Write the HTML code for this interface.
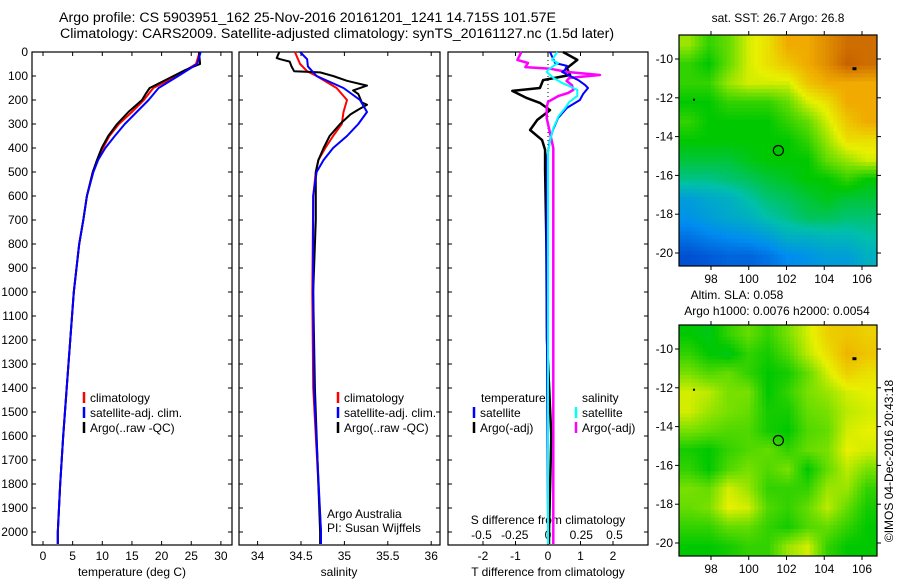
<!DOCTYPE html>
<html><head><meta charset="utf-8"><style>
html,body{margin:0;padding:0;background:#fff}
svg{display:block;font-family:"Liberation Sans",sans-serif}
text{font-size:12px;fill:#000}
</style></head><body>
<svg id="c" width="900" height="580" viewBox="0 0 900 580">
<text x="59" y="22" style="font-size:14.2px">Argo profile: CS 5903951_162 25-Nov-2016 20161201_1241 14.715S 101.57E</text>
<text x="60" y="38" style="font-size:14.2px">Climatology: CARS2009. Satellite-adjusted climatology: synTS_20161127.nc (1.5d later)</text>
</svg>
<script>
// ---- data ----
const depthTicks=[0,100,200,300,400,500,600,700,800,900,1000,1100,1200,1300,1400,1500,1600,1700,1800,1900,2000];
const tempTicks=[0,5,10,15,20,25,30];
const salTicks=[34,34.5,35,35.5,36];
const tdiffTicks=[-2,-1,0,1,2];
const sdiffTicks=[-0.5,-0.25,0,0.25,0.5];
const sdiffLabels=["-0.5","-0.25","0","0.25","0.5"];
const lonTicks=[98,100,102,104,106];
const latTicks=[-10,-12,-14,-16,-18,-20];

const tArgoD=[0,50,75,100,150,175,200,250,300,350,400,450,500,600,700,800,1000,1400,1600,1800,2000,2050];
const tArgoV=[26.3,26.5,24,22,18,17.3,16.7,14.4,12.5,11,9.9,9.1,8.4,7.4,6.8,6.1,5.2,4.0,3.4,2.9,2.5,2.5];
const tClimD=[0,50,100,150,200,250,300,350,400,450,500,600,700,800,1000,1400,1600,1800,2000,2050];
const tClimV=[26.4,25.8,22.5,18.6,17,15,12.8,11.2,10.1,9.2,8.4,7.4,6.8,6.1,5.2,4.0,3.4,2.9,2.5,2.5];
const tSatD=[0,50,100,150,200,250,300,350,400,450,500,600,700,800,1000,1400,1600,1800,2000,2050];
const tSatV=[26.6,26,22.8,19.5,17.8,15.8,13.8,12.1,10.5,9.3,8.5,7.4,6.8,6.1,5.2,4.0,3.4,2.9,2.5,2.5];

const sArgoD=[0,25,30,40,60,80,85,100,120,140,160,175,210,220,240,260,300,350,400,450,500,700,1000,1400,2000,2050];
const sArgoV=[34.25,34.22,34.26,34.37,34.39,34.42,34.72,34.87,35.03,35.26,35.1,35.16,35.2,35.26,35.16,35.07,34.95,34.83,34.76,34.7,34.67,34.67,34.64,34.66,34.72,34.72];
const sClimD=[0,50,80,100,150,200,250,300,350,400,450,500,600,1000,1400,2000,2050];
const sClimV=[34.43,34.49,34.57,34.68,34.91,35.03,34.99,34.97,34.87,34.78,34.7,34.67,34.64,34.63,34.64,34.73,34.73];
const sSatD=[0,30,60,100,150,200,250,300,350,400,450,500,600,1000,1400,2000,2050];
const sSatV=[34.49,34.57,34.58,34.68,34.99,35.18,35.26,35.16,35.03,34.87,34.76,34.68,34.64,34.64,34.65,34.73,34.73];

const dTArgoD=[0,33,67,96,117,150,162,192,212,242,283,325,367,408,492,800,1200,1600,2000,2050];
const dTArgoV=[0.46,0.9,0.58,0.68,-0.15,-0.25,-1.1,-0.65,-0.25,0.06,-0.33,-0.55,-0.18,-0.09,-0.09,-0.05,-0.03,0.1,0.03,0.03];
const dTSatD=[0,46,58,75,83,100,117,137,150,175,200,233,275,325,367,442,800,2000,2050];
const dTSatV=[0.06,0.22,0.58,0.52,0.43,0.68,0.93,1.14,1.23,1.08,0.98,0.58,0.31,0.15,0.06,-0.03,-0.05,0,0];
const dSSatD=[0,33,46,63,75,83,108,130,142,158,183,208,233,267,317,358,417,2000,2050];
const dSSatV=[0.07,0.03,0.075,0.03,0,-0.01,0.04,0.11,0.16,0.22,0.22,0.16,0.13,0.08,0.04,0.02,0,0,0];
const dSArgoD=[0,33,46,63,70,83,96,108,121,138,158,171,183,208,233,275,400,1000,2050];
const dSArgoV=[-0.2,-0.23,-0.15,-0.17,0.02,0.14,0.39,0.16,0.14,0.18,0.19,0.15,0.08,0,-0.01,-0.01,0.04,0.04,0.04];

const sstGrid=[
[0.65,0.55,0.6,0.7,0.75,0.85,0.85,0.9,0.95,0.95],
[0.55,0.5,0.6,0.7,0.75,0.8,0.85,0.9,0.97,0.95],
[0.55,0.55,0.65,0.7,0.7,0.7,0.8,0.85,0.85,0.85],
[0.5,0.5,0.55,0.55,0.55,0.6,0.7,0.75,0.85,0.85],
[0.55,0.5,0.5,0.5,0.5,0.55,0.6,0.7,0.8,0.85],
[0.5,0.5,0.5,0.5,0.5,0.5,0.55,0.65,0.75,0.75],
[0.45,0.45,0.45,0.48,0.5,0.5,0.5,0.6,0.65,0.7],
[0.38,0.38,0.4,0.42,0.45,0.47,0.5,0.5,0.55,0.5],
[0.25,0.28,0.3,0.35,0.4,0.42,0.45,0.48,0.45,0.45],
[0.22,0.25,0.28,0.3,0.35,0.38,0.42,0.42,0.4,0.4],
[0.15,0.18,0.2,0.22,0.25,0.3,0.3,0.32,0.32,0.35],
[0.08,0.1,0.12,0.12,0.15,0.2,0.22,0.25,0.25,0.3]];
const slaGrid=[
[0.5,0.48,0.55,0.6,0.55,0.62,0.7,0.78,0.8,0.78],
[0.55,0.5,0.48,0.55,0.52,0.58,0.68,0.75,0.83,0.8],
[0.62,0.58,0.6,0.55,0.5,0.52,0.6,0.7,0.78,0.75],
[0.7,0.68,0.62,0.62,0.5,0.55,0.62,0.65,0.7,0.72],
[0.7,0.65,0.62,0.6,0.52,0.52,0.6,0.62,0.68,0.7],
[0.62,0.6,0.58,0.58,0.52,0.5,0.58,0.6,0.7,0.72],
[0.52,0.5,0.55,0.58,0.6,0.55,0.6,0.62,0.72,0.7],
[0.55,0.5,0.58,0.62,0.58,0.62,0.5,0.6,0.68,0.62],
[0.62,0.6,0.7,0.65,0.55,0.55,0.55,0.65,0.65,0.55],
[0.6,0.62,0.72,0.7,0.58,0.55,0.6,0.68,0.6,0.52],
[0.55,0.55,0.6,0.6,0.55,0.52,0.58,0.6,0.55,0.5],
[0.5,0.5,0.52,0.55,0.55,0.65,0.7,0.55,0.5,0.5]];
const floatLon=101.57, floatLat=-14.715;

// ---- helpers ----
const NS="http://www.w3.org/2000/svg";
const svg=document.getElementById('c');
function mk(tag,attrs,parent){const e=document.createElementNS(NS,tag);for(const k in attrs)e.setAttribute(k,attrs[k]);(parent||svg).appendChild(e);return e;}
function txt(x,y,s,anchor,extra){const e=mk('text',Object.assign({x:x,y:y,'text-anchor':anchor||'start'},extra||{}));e.textContent=s;return e;}
const yD=d=>52+d*0.24;
const xT=t=>43+t*5.93;
const xS=s=>257.6+(s-34)*86.8;
const xTd=v=>548+v*32.5;
const xSd=v=>548+v*133;

function panel(x0,x1,name){
  const r=mk('rect',{x:x0,y:52,width:x1-x0,height:493,fill:'none',stroke:'#000','stroke-width':1.2});
  
  
  depthTicks.forEach(d=>{mk('line',{x1:x0,x2:x0+4,y1:yD(d),y2:yD(d),stroke:'#000'});mk('line',{x1:x1,x2:x1-4,y1:yD(d),y2:yD(d),stroke:'#000'});});
}
function xticks(vals,f,labels,y,name){
  vals.forEach((v,i)=>{const x=f(v);
    mk('line',{x1:x,x2:x,y1:52,y2:56,stroke:'#000'});mk('line',{x1:x,x2:x,y1:545,y2:541,stroke:'#000'});
    if(y){const t=txt(x,y,labels[i],'middle');}
  });
}
function line(D,V,fx,color,w,name){
  const pts=D.map((d,i)=>fx(V[i]).toFixed(1)+','+yD(d).toFixed(1)).join(' ');
  const p=mk('polyline',{points:pts,fill:'none',stroke:color,'stroke-width':w,'stroke-linejoin':'round'});
  
  
}
function legend(x,y,color,label,name){
  mk('line',{x1:x,x2:x,y1:y-10,y2:y+1,stroke:color,'stroke-width':2.5});
  const t=txt(x+6,y,label);
  
  
}

// ---- panels ----
panel(32,232,'temperature-panel');
panel(239,440,'salinity-panel');
panel(448,648,'difference-panel');
depthTicks.forEach(d=>{const t=txt(28,yD(d)+4,String(d),'end');});
xticks(tempTicks,xT,tempTicks.map(String),560,'temperature-tick-label');
xticks(salTicks,xS,salTicks.map(String),560,'salinity-tick-label');
xticks(tdiffTicks,xTd,tdiffTicks.map(String),560,'tdiff-tick-label');
sdiffTicks.forEach((v,i)=>{const t=txt(xSd(v),539,sdiffLabels[i],'middle');});
let t;
t=txt(132,576,'temperature (deg C)','middle');
t=txt(339,576,'salinity','middle');
t=txt(548,576,'T difference from climatology','middle');
t=txt(548,524,'S difference from climatology','middle');
mk('line',{x1:548,x2:548,y1:52,y2:545,stroke:'#000','stroke-dasharray':'1,3'});

line(tClimD,tClimV,xT,'#f00',2,'temp-climatology-line');
line(tArgoD,tArgoV,xT,'#000',2,'temp-argo-line');
line(tSatD,tSatV,xT,'#00f',2,'temp-satellite-line');
line(sClimD,sClimV,xS,'#f00',2,'sal-climatology-line');
line(sArgoD,sArgoV,xS,'#000',2,'sal-argo-line');
line(sSatD,sSatV,xS,'#00f',2,'sal-satellite-line');
line(dTArgoD,dTArgoV,xTd,'#000',2.5,'tdiff-argo-line');
line(dSArgoD,dSArgoV,xSd,'#f0f',2.5,'sdiff-argo-line');
line(dTSatD,dTSatV,xTd,'#00f',2,'tdiff-satellite-line');
line(dSSatD,dSSatV,xSd,'#0ff',2,'sdiff-satellite-line');

legend(84,402,'#f00','climatology','legend-climatology');
legend(84,417,'#00f','satellite-adj. clim.','legend-satellite');
legend(84,432,'#000','Argo(..raw -QC)','legend-argo');
legend(338,402,'#f00','climatology','legend-sal-climatology');
legend(338,417,'#00f','satellite-adj. clim.','legend-sal-satellite');
legend(338,432,'#000','Argo(..raw -QC)','legend-sal-argo');
t=txt(481,402,'temperature');
t=txt(582,402,'salinity');
legend(474,417,'#00f','satellite','legend-tdiff-satellite');
legend(474,432,'#000','Argo(-adj)','legend-tdiff-argo');
legend(576,417,'#0ff','satellite','legend-sdiff-satellite');
legend(576,432,'#f0f','Argo(-adj)','legend-sdiff-argo');
t=txt(327,518,'Argo Australia');
t=txt(327,532,'PI: Susan Wijffels');

// ---- maps ----
const stops=[[0,[0,40,190]],[0.2,[0,140,240]],[0.35,[0,192,170]],[0.5,[0,200,0]],[0.62,[120,224,0]],[0.72,[232,240,0]],[0.85,[240,170,0]],[1,[190,80,0]]];
function cmap(v){v=Math.max(0,Math.min(1,v));for(let i=1;i<stops.length;i++){if(v<=stops[i][0]){const a=stops[i-1],b=stops[i],f=(v-a[0])/(b[0]-a[0]);return 'rgb('+a[1].map((c,k)=>Math.round(c+(b[1][k]-c)*f)).join(',')+')';}}return 'rgb(190,80,0)';}
const lonX=lon=>711+(lon-98)*18.875;
function map(grid,top,name){
  const x0=679,x1=877,y0=top,y1=top+231;
  const latY=lat=>(top+24)+(-10-lat)*19.4;
  const g=mk('g',{});
  
  
  const R=grid.length,C=grid[0].length,sub=5;
  const cw=(x1-x0)/(C*sub),ch=(y1-y0)/(R*sub);
  for(let r=0;r<R*sub;r++)for(let c=0;c<C*sub;c++){
    const fy=Math.max(0,Math.min(R-1,(r+0.5)/sub-0.5)),fx=Math.max(0,Math.min(C-1,(c+0.5)/sub-0.5));
    const r0=Math.floor(fy),c0=Math.floor(fx),r1=Math.min(R-1,r0+1),c1=Math.min(C-1,c0+1),dy=fy-r0,dx=fx-c0;
    const v=grid[r0][c0]*(1-dx)*(1-dy)+grid[r0][c1]*dx*(1-dy)+grid[r1][c0]*(1-dx)*dy+grid[r1][c1]*dx*dy;
    mk('rect',{x:(x0+c*cw).toFixed(2),y:(y0+r*ch).toFixed(2),width:(cw+0.4).toFixed(2),height:(ch+0.4).toFixed(2),fill:cmap(v)},g);
  }
  mk('rect',{x:x0,y:y0,width:x1-x0,height:y1-y0,fill:'none',stroke:'#000','stroke-width':1.2});
  lonTicks.forEach(l=>{const x=lonX(l);mk('line',{x1:x,x2:x,y1:y0,y2:y0-4,stroke:'#000'});mk('line',{x1:x,x2:x,y1:y1,y2:y1+4,stroke:'#000'});
    const tt=txt(x,y1+17,String(l),'middle');});
  latTicks.forEach(l=>{const y=latY(l);mk('line',{x1:x0,x2:x0-4,y1:y,y2:y,stroke:'#000'});mk('line',{x1:x1,x2:x1+4,y1:y,y2:y,stroke:'#000'});
    const tt=txt(673,y+4,String(l),'end');});
  const m=mk('circle',{cx:lonX(floatLon),cy:latY(floatLat),r:5,fill:'none',stroke:'#000','stroke-width':1.2});
  
  
  mk('rect',{x:lonX(105.6)-2,y:latY(-10.5)-1.5,width:4,height:3,fill:'#000'});
  mk('rect',{x:lonX(97.1)-1,y:latY(-12.1)-1,width:2,height:2,fill:'#000'});
}
map(sstGrid,35,'sst-map');
map(slaGrid,325,'sla-map');
t=txt(778,22,'sat. SST: 26.7 Argo: 26.8','middle');
t=txt(737,299,'Altim. SLA: 0.058','middle');
t=txt(777,315,'Argo h1000: 0.0076 h2000: 0.0054','middle');
t=txt(0,0,'©IMOS 04-Dec-2016 20:43:18','middle',{transform:'translate(893,461) rotate(-90)'});


</script>
</body></html>
